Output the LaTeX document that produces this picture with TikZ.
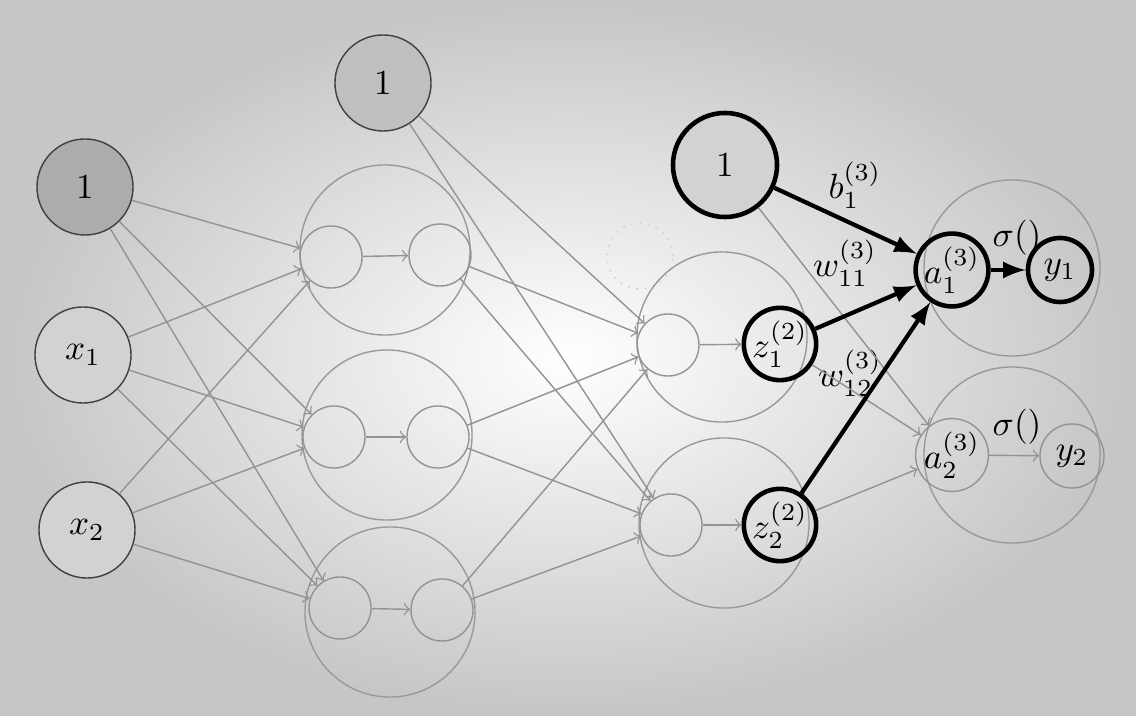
\documentclass[tikz,border=0pt]{standalone}
\usepackage{amsmath}
\usepackage{tikz}

\begin{document}
\begin{tikzpicture}[x=0.01cm,y=-0.01cm,
  bigUnit/.style={circle,draw=gray!80,thin,minimum size=1.7cm,inner sep=0pt},
  smallUnit/.style={circle,draw=gray!85,thin,minimum size=0.62cm,inner sep=0pt},
  ghostUnit/.style={circle,draw=gray!40,thin,dotted,minimum size=0.66cm,inner sep=0pt},
  inUnit/.style={circle,draw=black!75,minimum size=0.96cm,inner sep=0pt,fill=gray!35},
  boldUnit/.style={circle,draw,line width=1.3pt,minimum size=0.64cm,inner sep=0pt},
  thinArrow/.style={->,gray!85,thin},
  boldArrow/.style={-latex,line width=1.2pt}]
\useasboundingbox (0,0) rectangle (1136,716);
\shade[inner color=white,outer color=gray!45] (0,0) rectangle (1136,716);

%input layer
\node[inUnit,fill=gray!65]       (inputBias)      at (  85,187) {$1$};
\node[inUnit]                    (inputOne)       at (  83,355) {$x_1$};
\node[inUnit]                    (inputTwo)       at (  87,530) {$x_2$};

%first hidden layer
\node[inUnit,fill=gray!50]       (hiddenBias)     at ( 383, 83) {$1$};
\node[bigUnit]                   (hiddenOneBig)   at ( 385,250) {};
\node[smallUnit]                 (hiddenOneIn)    at ( 331,257) {};
\node[smallUnit]                 (hiddenOneOut)   at ( 440,255) {};
\node[bigUnit]                   (hiddenTwoBig)   at ( 387,435) {};
\node[smallUnit]                 (hiddenTwoIn)    at ( 334,437) {};
\node[smallUnit]                 (hiddenTwoOut)   at ( 438,437) {};
\node[bigUnit]                   (hiddenThreeBig) at ( 390,612) {};
\node[smallUnit]                 (hiddenThreeIn)  at ( 340,608) {};
\node[smallUnit]                 (hiddenThreeOut) at ( 442,610) {};

%second hidden layer
\node[ghostUnit]                 (secondGhost)    at ( 640,256) {};
\node[boldUnit,fill=gray!35,minimum size=1.04cm] (secondBias) at ( 725,165) {$1$};
\node[bigUnit]                   (secondOneBig)   at ( 722,337) {};
\node[smallUnit]                 (secondOneIn)    at ( 668,345) {};
\node[boldUnit]                  (secondOneOut)   at ( 780,344) {$z_1^{(2)}$};
\node[bigUnit]                   (secondTwoBig)   at ( 724,523) {};
\node[smallUnit]                 (secondTwoIn)    at ( 671,525) {};
\node[boldUnit]                  (secondTwoOut)   at ( 780,525) {$z_2^{(2)}$};

%output layer
\node[bigUnit,minimum size=1.76cm] (outputOneBig) at (1012,268) {};
\node[boldUnit]                  (outputOneIn)    at ( 952,270) {$a_1^{(3)}$};
\node[boldUnit]                  (outputOneOut)   at (1060,270) {$y_1$};
\node[bigUnit,minimum size=1.76cm] (outputTwoBig) at (1012,455) {};
\node[smallUnit,minimum size=0.64cm] (outputTwoIn)  at ( 952,455) {$a_2^{(3)}$};
\node[smallUnit,minimum size=0.64cm] (outputTwoOut) at (1072,456) {$y_2$};

%weight labels
\node (biasWeight)   at ( 855,185) {$b_1^{(3)}$};
\node (weightOneOne) at ( 845,263) {$w_{11}^{(3)}$};
\node (weightOneTwo) at ( 850,373) {$w_{12}^{(3)}$};
\node (sigmaOne)     at (1017,238) {$\sigma()$};
\node (sigmaTwo)     at (1017,427) {$\sigma()$};

%input to first hidden
\draw[thinArrow] (inputBias) -- (hiddenOneIn);
\draw[thinArrow] (inputBias) -- (hiddenTwoIn);
\draw[thinArrow] (inputBias) -- (hiddenThreeIn);
\draw[thinArrow] (inputOne) -- (hiddenOneIn);
\draw[thinArrow] (inputOne) -- (hiddenTwoIn);
\draw[thinArrow] (inputOne) -- (hiddenThreeIn);
\draw[thinArrow] (inputTwo) -- (hiddenOneIn);
\draw[thinArrow] (inputTwo) -- (hiddenTwoIn);
\draw[thinArrow] (inputTwo) -- (hiddenThreeIn);
\draw[thinArrow] (hiddenOneIn) -- (hiddenOneOut);
\draw[thinArrow] (hiddenTwoIn) -- (hiddenTwoOut);
\draw[thinArrow] (hiddenThreeIn) -- (hiddenThreeOut);

%first hidden to second hidden
\draw[thinArrow] (hiddenBias) -- (secondOneIn);
\draw[thinArrow] (hiddenBias) -- (secondTwoIn);
\draw[thinArrow] (hiddenOneOut) -- (secondOneIn);
\draw[thinArrow] (hiddenOneOut) -- (secondTwoIn);
\draw[thinArrow] (hiddenTwoOut) -- (secondOneIn);
\draw[thinArrow] (hiddenTwoOut) -- (secondTwoIn);
\draw[thinArrow] (hiddenThreeOut) -- (secondOneIn);
\draw[thinArrow] (hiddenThreeOut) -- (secondTwoIn);
\draw[thinArrow] (secondOneIn) -- (secondOneOut);
\draw[thinArrow] (secondTwoIn) -- (secondTwoOut);

%second hidden to output
\draw[thinArrow] (secondBias) -- (outputTwoIn);
\draw[thinArrow] (secondOneOut) -- (outputTwoIn);
\draw[thinArrow] (secondTwoOut) -- (outputTwoIn);
\draw[thinArrow] (outputTwoIn) -- (outputTwoOut);
\draw[boldArrow] (secondBias) -- (outputOneIn);
\draw[boldArrow] (secondOneOut) -- (outputOneIn);
\draw[boldArrow] (secondTwoOut) -- (outputOneIn);
\draw[boldArrow] (outputOneIn) -- (outputOneOut);
\end{tikzpicture}
\end{document}
